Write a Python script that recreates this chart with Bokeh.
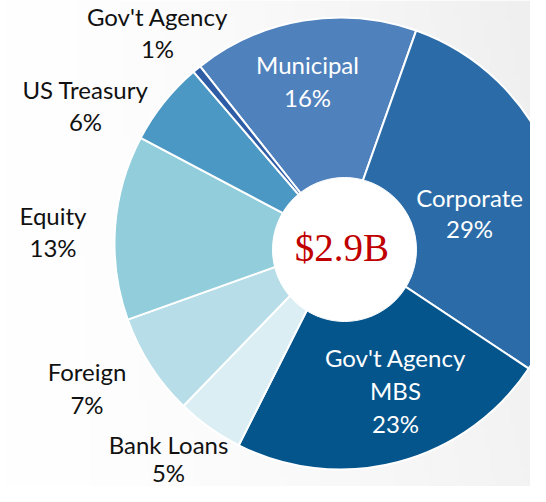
import numpy as np
from bokeh.plotting import figure
from bokeh.models import Range1d, ColumnDataSource
from bokeh.core.properties import value
from bokeh.embed import file_html
from bokeh.resources import INLINE

# ---- data (clockwise from the Municipal slice) ----
categories = ["Municipal", "Corporate", "Gov't Agency\nMBS", "Bank Loans",
              "Foreign", "Equity", "US Treasury", "Gov't Agency"]
shares = [16.1, 28.9, 23.1, 4.8, 7.3, 13.2, 6.0, 0.6]
total_label = "$2.9B"

# ---- styles / layout ----
colors = ["#4F81BD", "#2B6CA8", "#04558C", "#DAEEF3",
          "#B7DEE8", "#92CDDC", "#4B98C4", "#2E5DA6"]
label_colors = ["white", "white", "white", "#111111",
                "#111111", "#111111", "#111111", "#111111"]
# label anchor (px from top-left): centre x, first baseline y, line gap
label_anchor = [(307, 74, 33), (469, 207, 31), (395, 367, 33), (168, 454, 28),
                (86.5, 381, 33), (52.5, 225, 32), (85, 99, 32), (157, 26, 32)]
LABEL_FS = 24
TOTAL_FS = 39
BASE_FIX = 0.42  # rendered text sits ~0.42em below the requested baseline

W, H = 530, 486


def px(sx):
    return sx


def py(sy):
    return H - sy


cx, cy, R = px(340), py(243), 226
hole_x, hole_y, hole_r = px(344), py(249), 72
start_deg = -38.4  # clockwise from 12 o'clock, start of first slice

sh = np.array(shares, dtype=float)
frac = sh / sh.sum()
theta_end = start_deg + np.cumsum(frac) * 360.0
theta_start = theta_end - frac * 360.0
a_start = np.deg2rad(90.0 - theta_end)
a_end = np.deg2rad(90.0 - theta_start)

p = figure(width=W, height=H, output_backend="svg", toolbar_location=None,
           x_range=Range1d(0, W), y_range=Range1d(0, H),
           x_axis_location=None, y_axis_location=None, min_border=0,
           background_fill_color="white", border_fill_color="white")
p.grid.visible = False
p.outline_line_color = None

# subtle background shading (light grey towards the right)
gx = np.linspace(0, 1, 106)[None, :]
gy = np.linspace(0, 1, 98)[:, None]
shade = 255 - 16 * gx ** 1.4 * (0.75 + 0.25 * gy)
img = np.zeros((98, 106), dtype=np.uint32)
view = img.view(dtype=np.uint8).reshape((98, 106, 4))
g = np.clip(shade, 0, 255).astype(np.uint8)
view[:, :, 0] = g
view[:, :, 1] = g
view[:, :, 2] = g
view[:, :, 3] = 255
p.image_rgba(image=[img], x=0, y=0, dw=W, dh=H)

wsrc = ColumnDataSource(dict(start=a_start, end=a_end, color=colors,
                             name=categories, share=shares))
p.wedge(x=cx, y=cy, radius=R, start_angle="start", end_angle="end",
        fill_color="color", line_color="white", line_width=2, source=wsrc)

# centre hole
p.scatter(x=[hole_x], y=[hole_y], size=2 * hole_r, marker="circle",
          fill_color="white", line_color="white")

# labels
lx, ly, lt, lc = [], [], [], []
for cat, s, (ax, ay, gap), col in zip(categories, shares, label_anchor, label_colors):
    lines = cat.split("\n") + [f"{round(s)}%"]
    for i, t in enumerate(lines):
        lx.append(px(ax))
        ly.append(py(ay + i * gap - BASE_FIX * LABEL_FS))
        lt.append(t)
        lc.append(col)
tsrc = ColumnDataSource(dict(x=lx, y=ly, text=lt, color=lc))
p.text(x="x", y="y", text="text", text_color="color", source=tsrc,
       text_font=value("Lato"), text_font_size=f"{LABEL_FS}px",
       text_align="center", text_baseline="alphabetic")

p.text(x=[px(341.5)], y=[py(261 - 0.36 * TOTAL_FS)], text=[total_label],
       text_font=value("Liberation Serif"), text_font_size=f"{TOTAL_FS}px",
       text_color="#C00000", text_align="center", text_baseline="alphabetic")

open("out.html", "w").write(file_html(p, INLINE))
